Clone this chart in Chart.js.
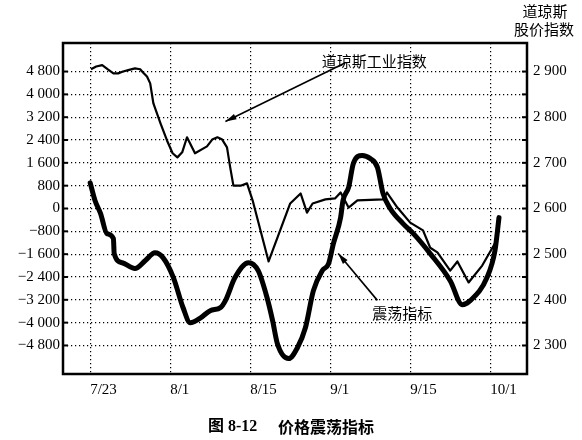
<!DOCTYPE html>
<html lang="zh">
<head>
<meta charset="UTF-8" />
<title>价格震荡指标</title>
<script src="https://cdn.jsdelivr.net/npm/chart.js"></script>
<style>
  html, body { margin: 0; padding: 0; background: #fff; }
</style>
</head>
<body>
<canvas id="osc-chart" width="582" height="440"></canvas>
<script>
// ---- datos ----
const dateLabels = ['7/23', '8/1', '8/15', '9/1', '9/15', '10/1'];
const leftTicks = [-4800, -4000, -3200, -2400, -1600, -800, 0, 800, 1600, 2400, 3200, 4000, 4800];
const rightTicks = [2300, 2350, 2400, 2450, 2500, 2550, 2600, 2650, 2700, 2750, 2800, 2850, 2900];

// 震荡指标 (eje izquierdo)
const oscX = [0, 0.06, 0.13, 0.21, 0.29, 0.30, 0.40, 0.56, 0.69, 0.81, 0.91, 1.04, 1.16, 1.25, 1.38, 1.5, 1.63, 1.69, 1.81, 1.98, 2.1, 2.21, 2.28, 2.34, 2.48, 2.59, 2.69, 2.79, 2.9, 2.98, 3.04, 3.13, 3.16, 3.23, 3.29, 3.4, 3.5, 3.59, 3.66, 3.75, 3.91, 4.04, 4.25, 4.5, 4.65, 4.75, 4.96, 5.06, 5.11];
const oscY = [900, 280, -180, -880, -1050, -1580, -1900, -2100, -1820, -1550, -1720, -2420, -3470, -4000, -3830, -3580, -3470, -3230, -2420, -1900, -2180, -3120, -3930, -4740, -5260, -4880, -4180, -2880, -2180, -1930, -1230, -320, 280, 740, 1580, 1860, 1750, 1440, 530, 0, -530, -880, -1580, -2530, -3370, -3230, -2420, -1470, -320];

// 道琼斯工业指数 (eje derecho)
const dowX = [0.01, 0.075, 0.15, 0.225, 0.29, 0.35, 0.41, 0.475, 0.56, 0.625, 0.66, 0.71, 0.75, 0.79, 0.88, 0.96, 1.03, 1.09, 1.15, 1.21, 1.31, 1.46, 1.525, 1.59, 1.65, 1.71, 1.75, 1.79, 1.88, 1.96, 2.03, 2.23, 2.5, 2.63, 2.71, 2.78, 2.94, 3.06, 3.13, 3.23, 3.34, 3.66, 3.71, 3.84, 4.0, 4.16, 4.25, 4.34, 4.5, 4.59, 4.73, 4.9, 5.08];
const dowY = [2905, 2911, 2914, 2904, 2896, 2896, 2900, 2903, 2907, 2905, 2898, 2889, 2874, 2830, 2786, 2749, 2721, 2712, 2723, 2756, 2721, 2736, 2751, 2756, 2751, 2734, 2690, 2650, 2650, 2655, 2618, 2484, 2611, 2633, 2591, 2611, 2620, 2622, 2635, 2602, 2618, 2620, 2635, 2602, 2569, 2552, 2514, 2504, 2464, 2484, 2438, 2475, 2530];

// notas con flecha (coordenadas de datos: x, y izquierdo)
const notes = [
  { text: '道琼斯工业指数', at: [3.55, 5150], from: [3.19, 5110], to: [1.69, 3050] },
  { text: '震荡指标', at: [3.9, -3680], from: [3.59, -3220], to: [3.1, -1580] }
];

const numFont = '"Liberation Serif", "Times New Roman", serif';
const cjkFont = '"Noto Sans CJK SC", sans-serif';

function fmt(v) {
  const s = Math.abs(v).toString().replace(/\B(?=(\d{3})+(?!\d))/g, ' ');
  return (v < 0 ? '\u2212' : '') + s;
}

function arrow(ctx, x1, y1, x2, y2) {
  ctx.beginPath();
  ctx.moveTo(x1, y1);
  ctx.lineTo(x2, y2);
  ctx.stroke();
  const ang = Math.atan2(y2 - y1, x2 - x1);
  const len = 11, w = 3;
  ctx.beginPath();
  ctx.moveTo(x2, y2);
  ctx.lineTo(x2 - len * Math.cos(ang) + w * Math.sin(ang), y2 - len * Math.sin(ang) - w * Math.cos(ang));
  ctx.lineTo(x2 - len * Math.cos(ang) - w * Math.sin(ang), y2 - len * Math.sin(ang) + w * Math.cos(ang));
  ctx.closePath();
  ctx.fill();
}

// marco, marcas internas, notas y textos
const decor = {
  id: 'decor',
  afterDatasetsDraw(chart) {
    const { ctx, chartArea: a, scales } = chart;
    const x = scales.x, yL = scales.y, yR = scales.y2;
    ctx.save();
    ctx.strokeStyle = '#000';
    ctx.fillStyle = '#000';

    // marcas cortas hacia dentro
    ctx.lineWidth = 2;
    leftTicks.forEach(v => {
      const py = yL.getPixelForValue(v);
      ctx.beginPath(); ctx.moveTo(a.left, py); ctx.lineTo(a.left + 5, py); ctx.stroke();
    });
    rightTicks.forEach(v => {
      const py = yR.getPixelForValue(v);
      ctx.beginPath(); ctx.moveTo(a.right - 5, py); ctx.lineTo(a.right, py); ctx.stroke();
    });

    // marco
    ctx.lineWidth = 2.5;
    ctx.strokeRect(a.left, a.top, a.right - a.left, a.bottom - a.top);

    // notas
    ctx.lineWidth = 1.6;
    ctx.font = '15px ' + cjkFont;
    ctx.textAlign = 'center';
    ctx.textBaseline = 'middle';
    notes.forEach(n => {
      ctx.fillText(n.text, x.getPixelForValue(n.at[0]), yL.getPixelForValue(n.at[1]));
      arrow(ctx, x.getPixelForValue(n.from[0]), yL.getPixelForValue(n.from[1]),
                 x.getPixelForValue(n.to[0]), yL.getPixelForValue(n.to[1]));
    });

    // titulo del eje derecho
    ctx.fillText('道琼斯', 545, 11);
    ctx.fillText('股价指数', 544, 29);

    // pie de figura
    ctx.font = 'bold 16px ' + numFont + ', ' + cjkFont;
    ctx.textAlign = 'left';
    ctx.fillText('图 8-12', 208, 427);
    ctx.font = 'bold 16px ' + cjkFont;
    ctx.fillText('价格震荡指标', 278, 427);
    ctx.restore();
  }
};

const chart = new Chart(document.getElementById('osc-chart'), {
  type: 'line',
  data: {
    datasets: [
      {
        label: '道琼斯工业指数',
        data: dowX.map((v, i) => ({ x: v, y: dowY[i] })),
        yAxisID: 'y2',
        borderColor: '#000',
        borderWidth: 2.2,
        pointRadius: 0,
        tension: 0,
        borderJoinStyle: 'round',
        fill: false
      },
      {
        label: '震荡指标',
        data: oscX.map((v, i) => ({ x: v, y: oscY[i] })),
        yAxisID: 'y',
        borderColor: '#000',
        borderWidth: 5,
        pointRadius: 0,
        cubicInterpolationMode: 'monotone',
        borderCapStyle: 'round',
        borderJoinStyle: 'round',
        fill: false
      }
    ]
  },
  options: {
    responsive: false,
    animation: false,
    layout: { padding: { top: 43, left: 0, right: 0, bottom: 0 } },
    plugins: { legend: { display: false }, tooltip: { enabled: false } },
    scales: {
      x: {
        type: 'linear',
        min: -0.34,
        max: 5.46,
        afterBuildTicks: s => { s.ticks = dateLabels.map((_, i) => ({ value: i })); },
        afterFit: s => { s.height = 66; },
        ticks: {
          align: 'start',
          padding: 7,
          color: '#000',
          font: { family: numFont, size: 15 },
          callback: v => dateLabels[v]
        },
        grid: { color: '#000', lineWidth: 1.2, drawTicks: false },
        border: { display: false, dash: [1.2, 2.8] }
      },
      y: {
        position: 'left',
        min: -5800,
        max: 5800,
        afterBuildTicks: s => { s.ticks = leftTicks.map(v => ({ value: v })); },
        afterFit: s => { s.width = 63; },
        ticks: {
          padding: 3,
          color: '#000',
          font: { family: numFont, size: 15 },
          callback: v => fmt(v)
        },
        grid: { color: '#000', lineWidth: 1.2, drawTicks: false },
        border: { display: false, dash: [1.2, 2.8] }
      },
      y2: {
        position: 'right',
        min: 2237.5,
        max: 2962.5,
        afterBuildTicks: s => { s.ticks = rightTicks.map(v => ({ value: v })); },
        afterFit: s => { s.width = 55; },
        ticks: {
          padding: 6,
          color: '#000',
          font: { family: numFont, size: 15 },
          callback: v => (v % 100 === 0 ? fmt(v) : '')
        },
        grid: { display: false, drawTicks: false },
        border: { display: false }
      }
    }
  },
  plugins: [decor]
});
</script>
</body>
</html>
